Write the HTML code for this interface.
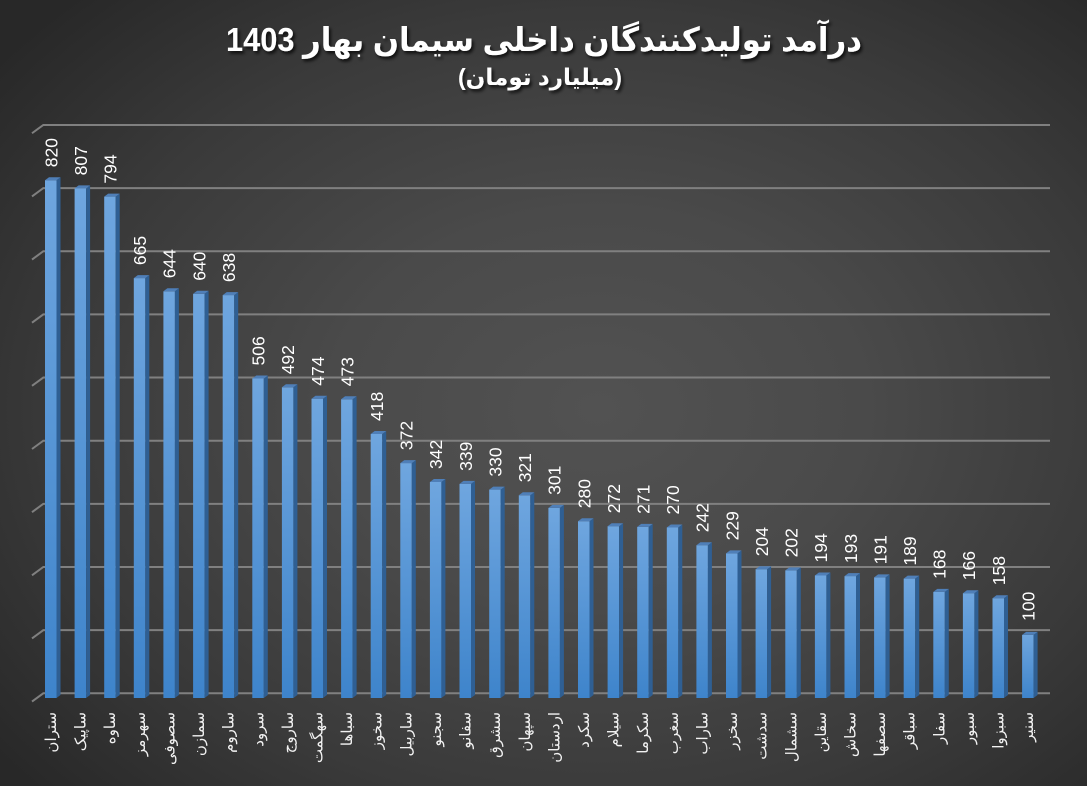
<!DOCTYPE html>
<html><head><meta charset="utf-8">
<style>
html,body{margin:0;padding:0;}
body{width:1087px;height:786px;overflow:hidden;background:radial-gradient(ellipse 70% 72% at 55% 52%, #525252 0%, #4a4a4a 35%, #3a3a3a 70%, #282828 100%);}
svg{position:absolute;left:0;top:0;}
.dl{font-family:"Liberation Sans",sans-serif;font-size:17.5px;fill:#ffffff;}
.xl{font-family:"Liberation Sans","DejaVu Sans",sans-serif;font-size:15px;fill:#f2f2f2;}
</style></head>
<body>
<svg width="1087" height="786" viewBox="0 0 1087 786" xmlns="http://www.w3.org/2000/svg">
<defs>
<linearGradient id="gf" x1="0" y1="0" x2="0" y2="1">
<stop offset="0" stop-color="#6fa6df"/>
<stop offset="1" stop-color="#3e84cb"/>
</linearGradient>
<filter id="sh" x="-5%" y="-20%" width="110%" height="150%">
<feDropShadow dx="2" dy="2.5" stdDeviation="1.5" flood-color="#000" flood-opacity="0.75"/>
</filter>
</defs>

<!-- title -->
<g filter="url(#sh)" font-family="'Liberation Sans','DejaVu Sans',sans-serif" font-weight="bold" fill="#ffffff" text-anchor="middle">
<text x="544" y="51" font-size="33" textLength="636" lengthAdjust="spacingAndGlyphs">درآمد تولیدکنندگان داخلی سیمان بهار 1403</text>
<text x="540" y="85" font-size="23" textLength="164" lengthAdjust="spacingAndGlyphs">(میلیارد تومان)</text>
</g>

<!-- gridlines -->
<g stroke="#808080" stroke-width="2" fill="none">
<path d="M32 701.6L43.3 693.3H1050M32 638.45L43.3 630.15H1050M32 575.3L43.3 567H1050M32 512.15L43.3 503.85H1050M32 449L43.3 440.7H1050M32 385.85L43.3 377.55H1050M32 322.7L43.3 314.4H1050M32 259.55L43.3 251.25H1050M32 196.4L43.3 188.1H1050M32 133.25L43.3 124.95H1050"/>
</g>

<!-- bars -->
<g>
<g transform="translate(45,0)"><rect x="0" y="180.2" width="11.5" height="517.8" fill="url(#gf)"/><polygon points="11.5,180.2 15.5,177.2 15.5,695 11.5,698" fill="#2f5f93"/><polygon points="0,180.2 11.5,180.2 15.5,177.2 4,177.2" fill="#4f7fb8"/></g>
<g transform="translate(74.6,0)"><rect x="0" y="188.4" width="11.5" height="509.6" fill="url(#gf)"/><polygon points="11.5,188.4 15.5,185.4 15.5,695 11.5,698" fill="#2f5f93"/><polygon points="0,188.4 11.5,188.4 15.5,185.4 4,185.4" fill="#4f7fb8"/></g>
<g transform="translate(104.2,0)"><rect x="0" y="196.6" width="11.5" height="501.4" fill="url(#gf)"/><polygon points="11.5,196.6 15.5,193.6 15.5,695 11.5,698" fill="#2f5f93"/><polygon points="0,196.6 11.5,196.6 15.5,193.6 4,193.6" fill="#4f7fb8"/></g>
<g transform="translate(133.8,0)"><rect x="0" y="278.1" width="11.5" height="419.9" fill="url(#gf)"/><polygon points="11.5,278.1 15.5,275.1 15.5,695 11.5,698" fill="#2f5f93"/><polygon points="0,278.1 11.5,278.1 15.5,275.1 4,275.1" fill="#4f7fb8"/></g>
<g transform="translate(163.4,0)"><rect x="0" y="291.3" width="11.5" height="406.7" fill="url(#gf)"/><polygon points="11.5,291.3 15.5,288.3 15.5,695 11.5,698" fill="#2f5f93"/><polygon points="0,291.3 11.5,291.3 15.5,288.3 4,288.3" fill="#4f7fb8"/></g>
<g transform="translate(193.1,0)"><rect x="0" y="293.8" width="11.5" height="404.2" fill="url(#gf)"/><polygon points="11.5,293.8 15.5,290.8 15.5,695 11.5,698" fill="#2f5f93"/><polygon points="0,293.8 11.5,293.8 15.5,290.8 4,290.8" fill="#4f7fb8"/></g>
<g transform="translate(222.7,0)"><rect x="0" y="295.1" width="11.5" height="402.9" fill="url(#gf)"/><polygon points="11.5,295.1 15.5,292.1 15.5,695 11.5,698" fill="#2f5f93"/><polygon points="0,295.1 11.5,295.1 15.5,292.1 4,292.1" fill="#4f7fb8"/></g>
<g transform="translate(252.3,0)"><rect x="0" y="378.5" width="11.5" height="319.5" fill="url(#gf)"/><polygon points="11.5,378.5 15.5,375.5 15.5,695 11.5,698" fill="#2f5f93"/><polygon points="0,378.5 11.5,378.5 15.5,375.5 4,375.5" fill="#4f7fb8"/></g>
<g transform="translate(281.9,0)"><rect x="0" y="387.3" width="11.5" height="310.7" fill="url(#gf)"/><polygon points="11.5,387.3 15.5,384.3 15.5,695 11.5,698" fill="#2f5f93"/><polygon points="0,387.3 11.5,387.3 15.5,384.3 4,384.3" fill="#4f7fb8"/></g>
<g transform="translate(311.5,0)"><rect x="0" y="398.7" width="11.5" height="299.3" fill="url(#gf)"/><polygon points="11.5,398.7 15.5,395.7 15.5,695 11.5,698" fill="#2f5f93"/><polygon points="0,398.7 11.5,398.7 15.5,395.7 4,395.7" fill="#4f7fb8"/></g>
<g transform="translate(341.1,0)"><rect x="0" y="399.3" width="11.5" height="298.7" fill="url(#gf)"/><polygon points="11.5,399.3 15.5,396.3 15.5,695 11.5,698" fill="#2f5f93"/><polygon points="0,399.3 11.5,399.3 15.5,396.3 4,396.3" fill="#4f7fb8"/></g>
<g transform="translate(370.7,0)"><rect x="0" y="434" width="11.5" height="264" fill="url(#gf)"/><polygon points="11.5,434 15.5,431 15.5,695 11.5,698" fill="#2f5f93"/><polygon points="0,434 11.5,434 15.5,431 4,431" fill="#4f7fb8"/></g>
<g transform="translate(400.3,0)"><rect x="0" y="463.1" width="11.5" height="234.9" fill="url(#gf)"/><polygon points="11.5,463.1 15.5,460.1 15.5,695 11.5,698" fill="#2f5f93"/><polygon points="0,463.1 11.5,463.1 15.5,460.1 4,460.1" fill="#4f7fb8"/></g>
<g transform="translate(429.9,0)"><rect x="0" y="482" width="11.5" height="216" fill="url(#gf)"/><polygon points="11.5,482 15.5,479 15.5,695 11.5,698" fill="#2f5f93"/><polygon points="0,482 11.5,482 15.5,479 4,479" fill="#4f7fb8"/></g>
<g transform="translate(459.5,0)"><rect x="0" y="483.9" width="11.5" height="214.1" fill="url(#gf)"/><polygon points="11.5,483.9 15.5,480.9 15.5,695 11.5,698" fill="#2f5f93"/><polygon points="0,483.9 11.5,483.9 15.5,480.9 4,480.9" fill="#4f7fb8"/></g>
<g transform="translate(489.2,0)"><rect x="0" y="489.6" width="11.5" height="208.4" fill="url(#gf)"/><polygon points="11.5,489.6 15.5,486.6 15.5,695 11.5,698" fill="#2f5f93"/><polygon points="0,489.6 11.5,489.6 15.5,486.6 4,486.6" fill="#4f7fb8"/></g>
<g transform="translate(518.8,0)"><rect x="0" y="495.3" width="11.5" height="202.7" fill="url(#gf)"/><polygon points="11.5,495.3 15.5,492.3 15.5,695 11.5,698" fill="#2f5f93"/><polygon points="0,495.3 11.5,495.3 15.5,492.3 4,492.3" fill="#4f7fb8"/></g>
<g transform="translate(548.4,0)"><rect x="0" y="507.9" width="11.5" height="190.1" fill="url(#gf)"/><polygon points="11.5,507.9 15.5,504.9 15.5,695 11.5,698" fill="#2f5f93"/><polygon points="0,507.9 11.5,507.9 15.5,504.9 4,504.9" fill="#4f7fb8"/></g>
<g transform="translate(578,0)"><rect x="0" y="521.2" width="11.5" height="176.8" fill="url(#gf)"/><polygon points="11.5,521.2 15.5,518.2 15.5,695 11.5,698" fill="#2f5f93"/><polygon points="0,521.2 11.5,521.2 15.5,518.2 4,518.2" fill="#4f7fb8"/></g>
<g transform="translate(607.6,0)"><rect x="0" y="526.2" width="11.5" height="171.8" fill="url(#gf)"/><polygon points="11.5,526.2 15.5,523.2 15.5,695 11.5,698" fill="#2f5f93"/><polygon points="0,526.2 11.5,526.2 15.5,523.2 4,523.2" fill="#4f7fb8"/></g>
<g transform="translate(637.2,0)"><rect x="0" y="526.9" width="11.5" height="171.1" fill="url(#gf)"/><polygon points="11.5,526.9 15.5,523.9 15.5,695 11.5,698" fill="#2f5f93"/><polygon points="0,526.9 11.5,526.9 15.5,523.9 4,523.9" fill="#4f7fb8"/></g>
<g transform="translate(666.8,0)"><rect x="0" y="527.5" width="11.5" height="170.5" fill="url(#gf)"/><polygon points="11.5,527.5 15.5,524.5 15.5,695 11.5,698" fill="#2f5f93"/><polygon points="0,527.5 11.5,527.5 15.5,524.5 4,524.5" fill="#4f7fb8"/></g>
<g transform="translate(696.4,0)"><rect x="0" y="545.2" width="11.5" height="152.8" fill="url(#gf)"/><polygon points="11.5,545.2 15.5,542.2 15.5,695 11.5,698" fill="#2f5f93"/><polygon points="0,545.2 11.5,545.2 15.5,542.2 4,542.2" fill="#4f7fb8"/></g>
<g transform="translate(726,0)"><rect x="0" y="553.4" width="11.5" height="144.6" fill="url(#gf)"/><polygon points="11.5,553.4 15.5,550.4 15.5,695 11.5,698" fill="#2f5f93"/><polygon points="0,553.4 11.5,553.4 15.5,550.4 4,550.4" fill="#4f7fb8"/></g>
<g transform="translate(755.6,0)"><rect x="0" y="569.2" width="11.5" height="128.8" fill="url(#gf)"/><polygon points="11.5,569.2 15.5,566.2 15.5,695 11.5,698" fill="#2f5f93"/><polygon points="0,569.2 11.5,569.2 15.5,566.2 4,566.2" fill="#4f7fb8"/></g>
<g transform="translate(785.3,0)"><rect x="0" y="570.4" width="11.5" height="127.6" fill="url(#gf)"/><polygon points="11.5,570.4 15.5,567.4 15.5,695 11.5,698" fill="#2f5f93"/><polygon points="0,570.4 11.5,570.4 15.5,567.4 4,567.4" fill="#4f7fb8"/></g>
<g transform="translate(814.9,0)"><rect x="0" y="575.5" width="11.5" height="122.5" fill="url(#gf)"/><polygon points="11.5,575.5 15.5,572.5 15.5,695 11.5,698" fill="#2f5f93"/><polygon points="0,575.5 11.5,575.5 15.5,572.5 4,572.5" fill="#4f7fb8"/></g>
<g transform="translate(844.5,0)"><rect x="0" y="576.1" width="11.5" height="121.9" fill="url(#gf)"/><polygon points="11.5,576.1 15.5,573.1 15.5,695 11.5,698" fill="#2f5f93"/><polygon points="0,576.1 11.5,576.1 15.5,573.1 4,573.1" fill="#4f7fb8"/></g>
<g transform="translate(874.1,0)"><rect x="0" y="577.4" width="11.5" height="120.6" fill="url(#gf)"/><polygon points="11.5,577.4 15.5,574.4 15.5,695 11.5,698" fill="#2f5f93"/><polygon points="0,577.4 11.5,577.4 15.5,574.4 4,574.4" fill="#4f7fb8"/></g>
<g transform="translate(903.7,0)"><rect x="0" y="578.6" width="11.5" height="119.4" fill="url(#gf)"/><polygon points="11.5,578.6 15.5,575.6 15.5,695 11.5,698" fill="#2f5f93"/><polygon points="0,578.6 11.5,578.6 15.5,575.6 4,575.6" fill="#4f7fb8"/></g>
<g transform="translate(933.3,0)"><rect x="0" y="591.9" width="11.5" height="106.1" fill="url(#gf)"/><polygon points="11.5,591.9 15.5,588.9 15.5,695 11.5,698" fill="#2f5f93"/><polygon points="0,591.9 11.5,591.9 15.5,588.9 4,588.9" fill="#4f7fb8"/></g>
<g transform="translate(962.9,0)"><rect x="0" y="593.2" width="11.5" height="104.8" fill="url(#gf)"/><polygon points="11.5,593.2 15.5,590.2 15.5,695 11.5,698" fill="#2f5f93"/><polygon points="0,593.2 11.5,593.2 15.5,590.2 4,590.2" fill="#4f7fb8"/></g>
<g transform="translate(992.5,0)"><rect x="0" y="598.2" width="11.5" height="99.8" fill="url(#gf)"/><polygon points="11.5,598.2 15.5,595.2 15.5,695 11.5,698" fill="#2f5f93"/><polygon points="0,598.2 11.5,598.2 15.5,595.2 4,595.2" fill="#4f7fb8"/></g>
<g transform="translate(1022.1,0)"><rect x="0" y="634.9" width="11.5" height="63.1" fill="url(#gf)"/><polygon points="11.5,634.9 15.5,631.9 15.5,695 11.5,698" fill="#2f5f93"/><polygon points="0,634.9 11.5,634.9 15.5,631.9 4,631.9" fill="#4f7fb8"/></g>
</g>

<!-- data labels -->
<g class="dl">
<text transform="translate(51.3,167.2) rotate(-90)" y="6">820</text>
<text transform="translate(80.9,175.4) rotate(-90)" y="6">807</text>
<text transform="translate(110.5,183.6) rotate(-90)" y="6">794</text>
<text transform="translate(140.1,265.1) rotate(-90)" y="6">665</text>
<text transform="translate(169.7,278.3) rotate(-90)" y="6">644</text>
<text transform="translate(199.4,280.8) rotate(-90)" y="6">640</text>
<text transform="translate(229,282.1) rotate(-90)" y="6">638</text>
<text transform="translate(258.6,365.5) rotate(-90)" y="6">506</text>
<text transform="translate(288.2,374.3) rotate(-90)" y="6">492</text>
<text transform="translate(317.8,385.7) rotate(-90)" y="6">474</text>
<text transform="translate(347.4,386.3) rotate(-90)" y="6">473</text>
<text transform="translate(377,421) rotate(-90)" y="6">418</text>
<text transform="translate(406.6,450.1) rotate(-90)" y="6">372</text>
<text transform="translate(436.2,469) rotate(-90)" y="6">342</text>
<text transform="translate(465.8,470.9) rotate(-90)" y="6">339</text>
<text transform="translate(495.5,476.6) rotate(-90)" y="6">330</text>
<text transform="translate(525.1,482.3) rotate(-90)" y="6">321</text>
<text transform="translate(554.7,494.9) rotate(-90)" y="6">301</text>
<text transform="translate(584.3,508.2) rotate(-90)" y="6">280</text>
<text transform="translate(613.9,513.2) rotate(-90)" y="6">272</text>
<text transform="translate(643.5,513.9) rotate(-90)" y="6">271</text>
<text transform="translate(673.1,514.5) rotate(-90)" y="6">270</text>
<text transform="translate(702.7,532.2) rotate(-90)" y="6">242</text>
<text transform="translate(732.3,540.4) rotate(-90)" y="6">229</text>
<text transform="translate(761.9,556.2) rotate(-90)" y="6">204</text>
<text transform="translate(791.6,557.4) rotate(-90)" y="6">202</text>
<text transform="translate(821.2,562.5) rotate(-90)" y="6">194</text>
<text transform="translate(850.8,563.1) rotate(-90)" y="6">193</text>
<text transform="translate(880.4,564.4) rotate(-90)" y="6">191</text>
<text transform="translate(910,565.6) rotate(-90)" y="6">189</text>
<text transform="translate(939.6,578.9) rotate(-90)" y="6">168</text>
<text transform="translate(969.2,580.2) rotate(-90)" y="6">166</text>
<text transform="translate(998.8,585.2) rotate(-90)" y="6">158</text>
<text transform="translate(1028.4,620.9) rotate(-90)" y="6">100</text>
</g>

<!-- category labels -->
<g class="xl" text-anchor="end">
<text transform="translate(51,712) rotate(-90)" y="5">ستران</text>
<text transform="translate(80.6,712) rotate(-90)" y="5">ساپیک</text>
<text transform="translate(110.2,712) rotate(-90)" y="5">ساوه</text>
<text transform="translate(139.8,712) rotate(-90)" y="5">سهرمز</text>
<text transform="translate(169.4,712) rotate(-90)" y="5">سصوفی</text>
<text transform="translate(199.1,712) rotate(-90)" y="5">سمازن</text>
<text transform="translate(228.7,712) rotate(-90)" y="5">ساروم</text>
<text transform="translate(258.3,712) rotate(-90)" y="5">سرود</text>
<text transform="translate(287.9,712) rotate(-90)" y="5">ساروج</text>
<text transform="translate(317.5,712) rotate(-90)" y="5">سهگمت</text>
<text transform="translate(347.1,712) rotate(-90)" y="5">سباها</text>
<text transform="translate(376.7,712) rotate(-90)" y="5">سخوز</text>
<text transform="translate(406.3,712) rotate(-90)" y="5">ساربیل</text>
<text transform="translate(435.9,712) rotate(-90)" y="5">سجنو</text>
<text transform="translate(465.5,712) rotate(-90)" y="5">سفانو</text>
<text transform="translate(495.2,712) rotate(-90)" y="5">سشرق</text>
<text transform="translate(524.8,712) rotate(-90)" y="5">سپهان</text>
<text transform="translate(554.4,712) rotate(-90)" y="5">اردستان</text>
<text transform="translate(584,712) rotate(-90)" y="5">سکرد</text>
<text transform="translate(613.6,712) rotate(-90)" y="5">سیلام</text>
<text transform="translate(643.2,712) rotate(-90)" y="5">سکرما</text>
<text transform="translate(672.8,712) rotate(-90)" y="5">سغرب</text>
<text transform="translate(702.4,712) rotate(-90)" y="5">ساراب</text>
<text transform="translate(732,712) rotate(-90)" y="5">سخزر</text>
<text transform="translate(761.6,712) rotate(-90)" y="5">سدشت</text>
<text transform="translate(791.3,712) rotate(-90)" y="5">سشمال</text>
<text transform="translate(820.9,712) rotate(-90)" y="5">سقاین</text>
<text transform="translate(850.5,712) rotate(-90)" y="5">سخاش</text>
<text transform="translate(880.1,712) rotate(-90)" y="5">سصفها</text>
<text transform="translate(909.7,712) rotate(-90)" y="5">سباقر</text>
<text transform="translate(939.3,712) rotate(-90)" y="5">سفار</text>
<text transform="translate(968.9,712) rotate(-90)" y="5">سبور</text>
<text transform="translate(998.5,712) rotate(-90)" y="5">سبزوا</text>
<text transform="translate(1028.1,712) rotate(-90)" y="5">سنیر</text>
</g>
</svg>
</body></html>
